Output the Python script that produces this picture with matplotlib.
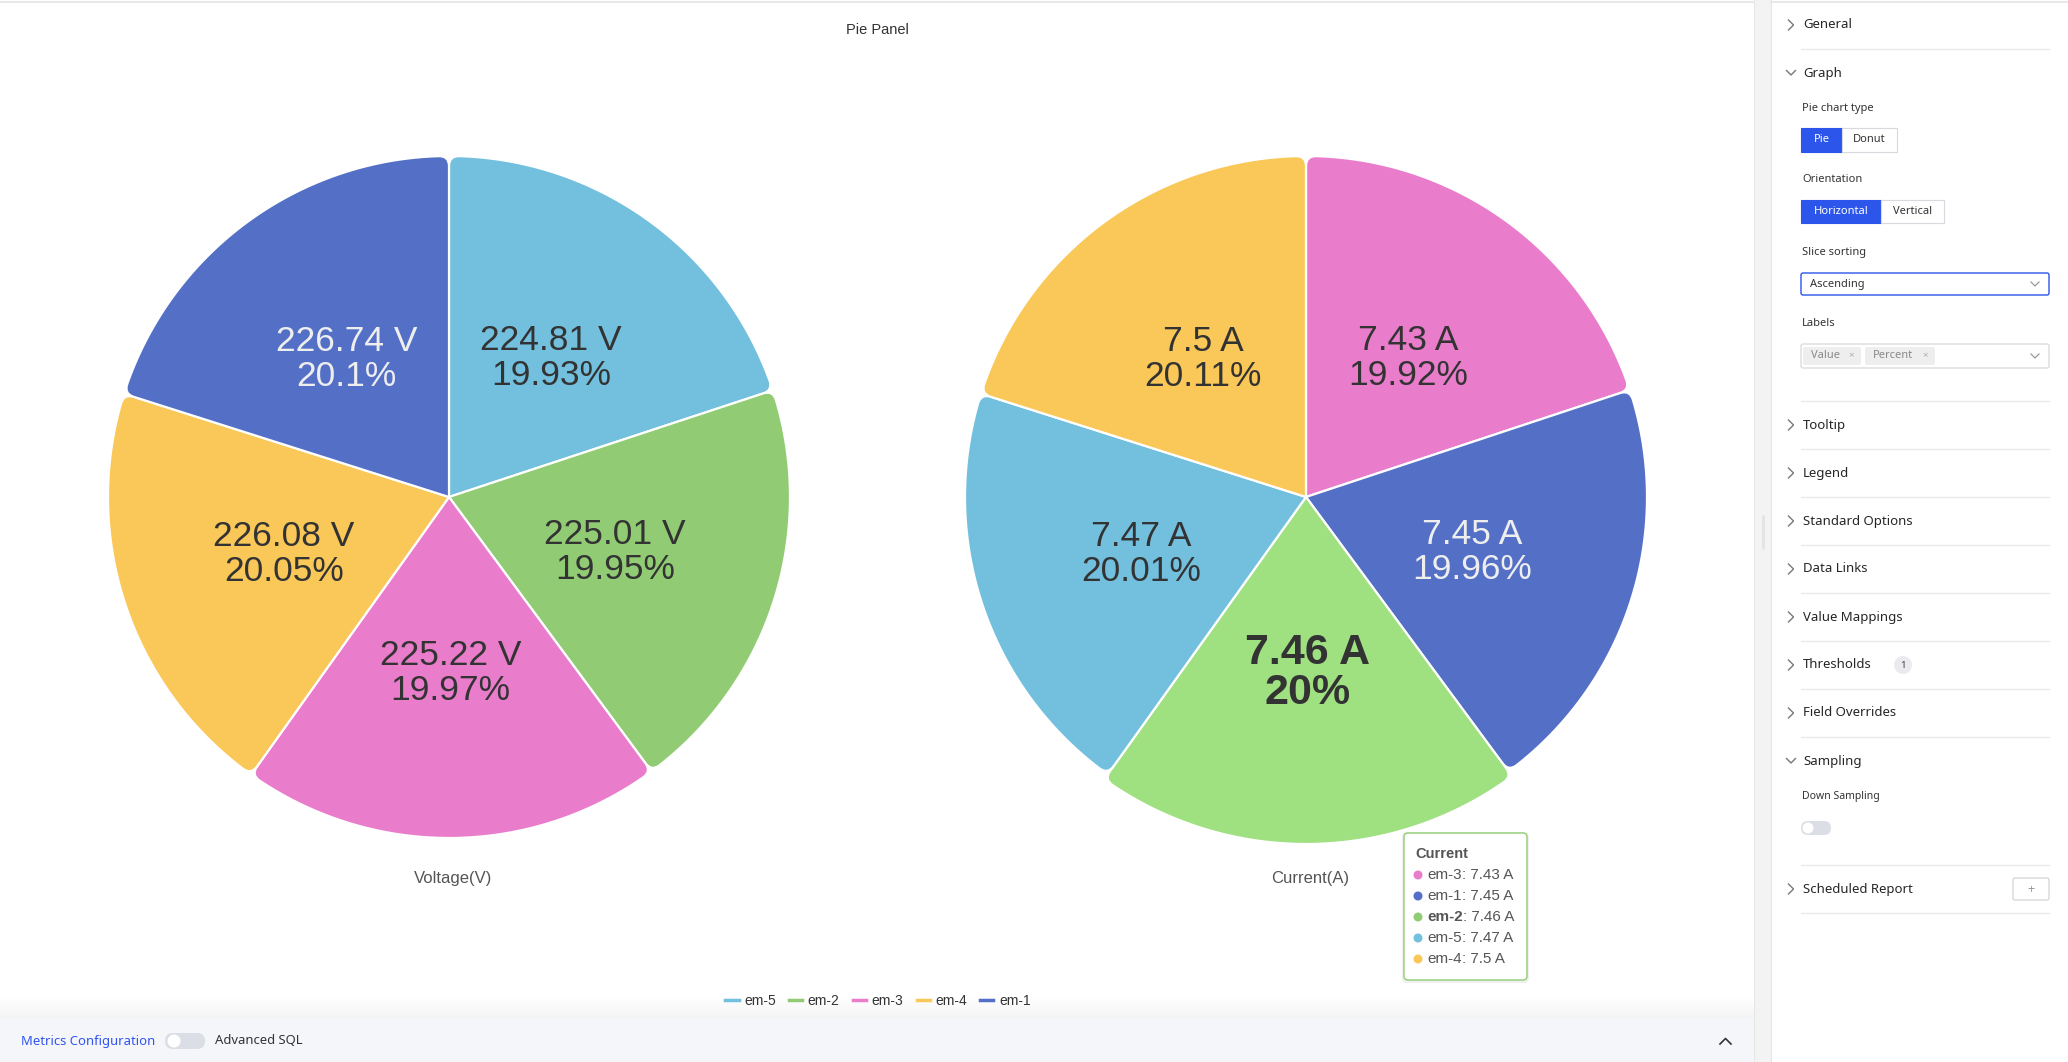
import numpy as np
import matplotlib.pyplot as plt
from matplotlib.path import Path
from matplotlib.patches import PathPatch, Rectangle, FancyBboxPatch, Circle
from matplotlib.lines import Line2D

# =========================================================
# Data
# =========================================================
voltage_names = ["em-5", "em-2", "em-3", "em-4", "em-1"]
voltage_values = [224.81, 225.01, 225.22, 226.08, 226.74]
voltage_pct = [19.93, 19.95, 19.97, 20.05, 20.1]

current_names = ["em-3", "em-1", "em-2", "em-5", "em-4"]
current_values = [7.43, 7.45, 7.46, 7.47, 7.5]
current_pct = [19.92, 19.96, 20, 20.01, 20.11]

series_colors = {
    "em-1": "#5470c6",
    "em-2": "#91cc75",
    "em-3": "#ea7ccc",
    "em-4": "#fac858",
    "em-5": "#73c0de",
}
hover_color = "#9fe080"
hover_index = 2  # em-2 on the current pie

W, H = 2068, 1062
CHART_FONT = ["Liberation Sans", "DejaVu Sans"]
UI_FONT = ["Noto Sans", "DejaVu Sans"]

fig = plt.figure(figsize=(W / 100, H / 100), dpi=100)
ax = fig.add_axes([0, 0, 1, 1])
ax.set_xlim(0, W)
ax.set_ylim(H, 0)
ax.axis("off")


# =========================================================
# Pie slice with rounded outer corners
# =========================================================
def slice_path(cx, cy, r, a0, a1, rc=10):
    def P(rad, a):
        return (cx + rad * np.sin(a), cy - rad * np.cos(a))
    da = rc / r
    verts = [P(0, 0), P(r - rc, a0), P(r, a0), P(r, a0 + da)]
    codes = [Path.MOVETO, Path.LINETO, Path.CURVE3, Path.CURVE3]
    for a in np.linspace(a0 + da, a1 - da, 80)[1:]:
        verts.append(P(r, a))
        codes.append(Path.LINETO)
    verts += [P(r, a1), P(r - rc, a1), P(0, 0), P(0, 0)]
    codes += [Path.CURVE3, Path.CURVE3, Path.LINETO, Path.CLOSEPOLY]
    return Path(verts, codes)


def draw_pie(cx, cy, r, names, values, pcts, unit, title, hover=None):
    total = float(sum(values))
    a = 0.0
    for i, (n, v, p) in enumerate(zip(names, values, pcts)):
        span = 2 * np.pi * v / total
        hot = (i == hover)
        rr = r + 6 if hot else r
        fc = hover_color if hot else series_colors[n]
        ax.add_patch(PathPatch(slice_path(cx, cy, rr, a, a + span),
                               fc=fc, ec="white", lw=1.6, zorder=2))
        mid = a + span / 2
        tx = cx + 0.51 * r * np.sin(mid)
        ty = cy - 0.51 * r * np.cos(mid) + 2
        tc = "#eeeeee" if n == "em-1" else "#333333"
        ax.text(tx, ty, f"{v:g} {unit}\n{p:g}%", ha="center", va="center",
                fontsize=31 if hot else 25.5, weight="bold" if hot else "normal",
                color=tc, linespacing=1.0 if hot else 1.08, family=CHART_FONT, zorder=3)
        a += span
    ax.text(cx + 4, 878, title, ha="center", va="center", fontsize=12,
            color="#555555", family=CHART_FONT)


# ---- panel backgrounds ----
ax.add_patch(Rectangle((1754, 0), 17, H, fc="#f3f3f4", ec="none", zorder=0))
ax.plot([1754, 1754], [0, H], color="#e6e6e6", lw=0.8, zorder=1)
ax.plot([1771, 1771], [0, H], color="#e6e6e6", lw=0.8, zorder=1)
ax.plot([1763, 1763], [516, 548], color="#e3e3e3", lw=2, zorder=1, solid_capstyle="round")
ax.plot([0, 1754], [2, 2], color="#e8e8e8", lw=1.5, zorder=1)
ax.plot([1771, W], [2, 2], color="#e8e8e8", lw=1.5, zorder=1)

# ---- title ----
ax.text(877, 30, "Pie Panel", ha="center", va="center", fontsize=10.5,
        color="#333333", family=CHART_FONT)

# ---- pies ----
draw_pie(449, 497, 341, voltage_names, voltage_values, voltage_pct, "V", "Voltage(V)")
draw_pie(1306, 497, 341, current_names, current_values, current_pct, "A", "Current(A)",
         hover=hover_index)

# ---- bottom bar ----
grad = np.linspace(0, 1, 50).reshape(-1, 1)
ax.imshow(grad, extent=(0, 1754, 1018, 996), cmap="Greys", vmin=0, vmax=11,
          aspect="auto", zorder=1)
ax.set_xlim(0, W)
ax.set_ylim(H, 0)
ax.add_patch(Rectangle((0, 1018), 1754, H - 1018, fc="#f5f6fa", ec="none", zorder=1))
ax.text(21, 1041, "Metrics Configuration", ha="left", va="center", fontsize=9.4,
        color="#3253f0", family=UI_FONT, zorder=2)
ax.add_patch(FancyBboxPatch((165, 1033), 40, 16, boxstyle="round,pad=0,rounding_size=8",
                            fc="#dcdee5", ec="none", zorder=2))
ax.add_patch(Circle((174, 1041), 6.5, fc="white", ec="none", zorder=3))
ax.text(215, 1041, "Advanced SQL", ha="left", va="center", fontsize=9.4,
        color="#333333", family=UI_FONT, zorder=2)
ax.plot([1720, 1725.5, 1731], [1044, 1038.5, 1044], color="#333333", lw=1.2, zorder=2)

# ---- legend ----
handles = [Line2D([], [], color=series_colors[n], lw=2.5) for n in voltage_names]
leg = ax.legend(handles, voltage_names, ncol=5, loc="center",
                bbox_to_anchor=(878 / W, 1 - 1001 / H), bbox_transform=fig.transFigure,
                frameon=False, handlelength=0.95, handletextpad=0.4,
                columnspacing=0.95, labelcolor="#333333",
                prop={"family": CHART_FONT, "size": 10})
leg.set_zorder(6)

# ---- tooltip ----
ax.add_patch(FancyBboxPatch((1402, 832), 127, 151, boxstyle="round,pad=0,rounding_size=5",
                            fc="#000000", ec="none", alpha=0.06, zorder=4))
ax.add_patch(FancyBboxPatch((1404, 833), 123, 147, boxstyle="round,pad=0,rounding_size=4",
                            fc="white", ec="#91cc75", lw=1.0, zorder=5))
ax.text(1415, 854, "Current", ha="left", va="center", fontsize=10.5, color="#555555",
        weight="bold", family=CHART_FONT, zorder=6)
for i, (n, v) in enumerate(zip(current_names, current_values)):
    y = 875 + i * 21
    ax.add_patch(Circle((1418, y), 4.5, fc=series_colors[n], ec="none", zorder=6))
    t = ax.text(1427, y, n, ha="left", va="center", fontsize=11, color="#555555",
                weight="bold" if i == hover_index else "normal",
                family=CHART_FONT, zorder=6)
    ax.annotate(f": {v:g} A", xy=(1, 0.5), xycoords=t, ha="left", va="center",
                fontsize=11, color="#555555", family=CHART_FONT, zorder=6)

# =========================================================
# Right settings panel
# =========================================================
def chevron(x, y, down=False):
    if down:
        ax.plot([x - 4.5, x, x + 4.5], [y - 2.5, y + 2, y - 2.5], color="#777777", lw=1)
    else:
        ax.plot([x - 2.5, x + 2.5, x - 2.5], [y - 5, y, y + 5], color="#777777", lw=1)

sections = [("General", 25, False), ("Graph", 73, True), ("Tooltip", 425, False),
            ("Legend", 473, False), ("Standard Options", 521, False),
            ("Data Links", 569, False), ("Value Mappings", 617, False),
            ("Thresholds", 665, False), ("Field Overrides", 713, False),
            ("Sampling", 761, True), ("Scheduled Report", 889, False)]
for name, y, opened in sections:
    chevron(1791, y, opened)
    ax.text(1803, y, name, ha="left", va="center", fontsize=9.5, color="#262626",
            family=UI_FONT)
for y in [49, 401, 449, 497, 545, 593, 641, 689, 737, 865, 913]:
    ax.plot([1801, 2049], [y, y], color="#e9e9ef", lw=1)

for label, y in [("Pie chart type", 109), ("Orientation", 180), ("Slice sorting", 252),
                 ("Labels", 324)]:
    ax.text(1802, y, label, ha="left", va="center", fontsize=8, color="#333333",
            family=UI_FONT)
ax.text(1802, 797, "Down Sampling", ha="left", va="center", fontsize=7.5,
        color="#333333", family=UI_FONT)

BLUE = "#2b55eb"
def button_group(x0, y0, h, items):
    x = x0
    for text, w, active in items:
        ax.add_patch(Rectangle((x, y0), w, h, fc=BLUE if active else "white",
                               ec=BLUE if active else "#d8d8de", lw=0.8, zorder=2))
        ax.text(x + w / 2, y0 + h / 2, text, ha="center", va="center", fontsize=8,
                color="white" if active else "#333333",
                weight="semibold" if active else "normal", family=UI_FONT, zorder=3)
        x += w

button_group(1801, 128, 24, [("Pie", 41, True), ("Donut", 55, False)])
button_group(1801, 200, 23, [("Horizontal", 80, True), ("Vertical", 63, False)])

# dropdown
ax.add_patch(FancyBboxPatch((1801, 273), 248, 22, boxstyle="round,pad=0,rounding_size=2",
                            fc="white", ec=BLUE, lw=1.0, zorder=2))
ax.text(1810, 284, "Ascending", ha="left", va="center", fontsize=8, color="#333333",
        family=UI_FONT, zorder=3)
ax.plot([2031, 2035, 2039], [282, 286, 282], color="#999999", lw=0.9, zorder=3)

# labels multi-select
ax.add_patch(FancyBboxPatch((1801, 344), 248, 24, boxstyle="round,pad=0,rounding_size=2",
                            fc="white", ec="#dcdce2", lw=1.0, zorder=2))
for text, x0, w in [("Value", 1803, 58), ("Percent", 1865, 70)]:
    ax.add_patch(FancyBboxPatch((x0, 347), w, 18, boxstyle="round,pad=0,rounding_size=2",
                                fc="#eeeeef", ec="none", zorder=3))
    ax.text(x0 + 8, 356, text, ha="left", va="center", fontsize=8, color="#888888",
            family=UI_FONT, zorder=4)
    ax.text(x0 + w - 10, 356, "×", ha="center", va="center", fontsize=7, color="#aaaaaa",
            family=UI_FONT, zorder=4)
ax.plot([2031, 2035, 2039], [354, 358, 354], color="#999999", lw=0.9, zorder=3)

# thresholds badge
ax.add_patch(Circle((1903, 665), 9, fc="#ebebef", ec="none", zorder=2))
ax.text(1903, 665, "1", ha="center", va="center", fontsize=7, color="#444444",
        family=UI_FONT, zorder=3)

# down sampling toggle
ax.add_patch(FancyBboxPatch((1801, 821), 30, 14, boxstyle="round,pad=0,rounding_size=7",
                            fc="#dcdee5", ec="none", zorder=2))
ax.add_patch(Circle((1808, 828), 5.5, fc="white", ec="none", zorder=3))

# scheduled report add button
ax.add_patch(FancyBboxPatch((2013, 878), 36, 22, boxstyle="round,pad=0,rounding_size=2",
                            fc="white", ec="#d4d4da", lw=0.9, zorder=2))
ax.text(2031, 889, "+", ha="center", va="center", fontsize=9, color="#999999",
        family=UI_FONT, zorder=3)

fig.savefig("out.png", dpi=100)
